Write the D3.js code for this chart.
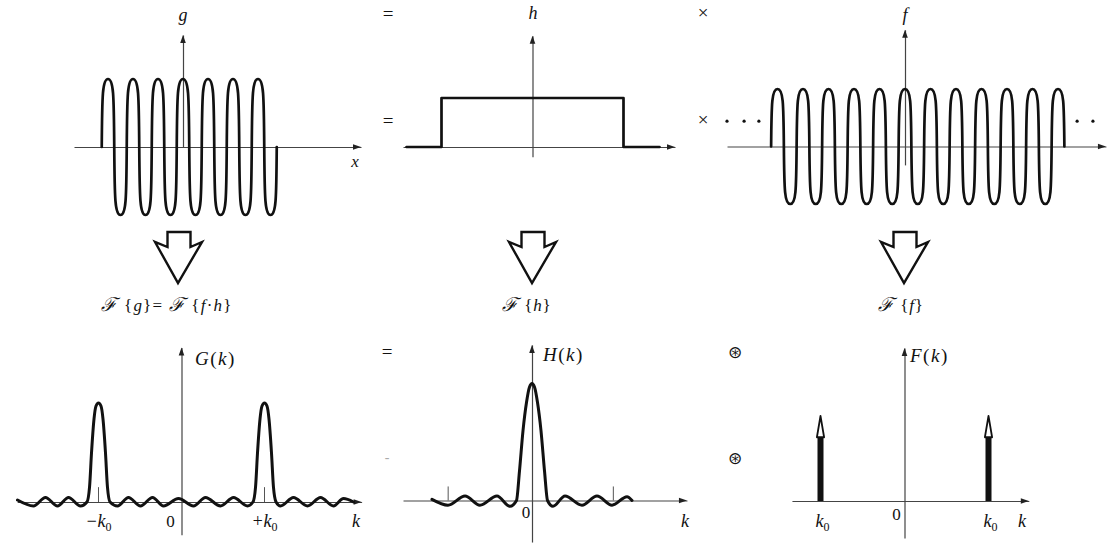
<!DOCTYPE html>
<html>
<head>
<meta charset="utf-8">
<script src="https://cdn.jsdelivr.net/npm/d3@7"></script>
<style>
body{margin:0;background:#fff}
svg text{font-family:"Liberation Serif","Times New Roman",serif;fill:#111}
.it{font-style:italic}
.scr{font-family:"DejaVu Serif",serif;font-style:italic}
.axis .domain{stroke:#444;stroke-width:1.2}
</style>
</head>
<body>
<svg id="fig" width="1107" height="549"></svg>
<script>
// ---- top row, x in carrier periods, value in amplitude units ----
// zero crossings and extrema of g = f*h  (7 periods)
const gX = [-3.25,-3,-2.75,-2.5,-2.25,-2,-1.75,-1.5,-1.25,-1,-0.75,-0.5,-0.25,0,0.25,0.5,0.75,1,1.25,1.5,1.75,2,2.25,2.5,2.75,3,3.25,3.5,3.75]
const gY = [0,1,0,-1,0,1,0,-1,0,1,0,-1,0,1,0,-1,0,1,0,-1,0,1,0,-1,0,1,0,-1,0]
// h = rectangular window
const hX = [-5.04,-3.64,-3.64,3.64,3.64,5.08]
const hY = [0,0,1,1,0,0]
// f = cosine carrier (continues both ways)
const fX = [-5.25,-5,-4.75,-4.5,-4.25,-4,-3.75,-3.5,-3.25,-3,-2.75,-2.5,-2.25,-2,-1.75,-1.5,-1.25,-1,-0.75,-0.5,-0.25,0,
            0.25,0.5,0.75,1,1.25,1.5,1.75,2,2.25,2.5,2.75,3,3.25,3.5,3.75,4,4.25,4.5,4.75,5,5.25,5.5,5.75,6,6.25]
const fY = [0,1,0,-1,0,1,0,-1,0,1,0,-1,0,1,0,-1,0,1,0,-1,0,1,
            0,-1,0,1,0,-1,0,1,0,-1,0,1,0,-1,0,1,0,-1,0,1,0,-1,0,1,0]
const fDotsX = [-6.98,-6.31,-5.73,6.75,7.37]
const fDotsY = [0.44,0.44,0.44,0.44,0.44]

// ---- bottom row, x in units of k0 ----
const Gk = [-1.976,-1.783,-1.639,-1.494,-1.361,-1.217,-1.139,-1.108,-1.084,-1.054,-1.030,-1,-0.970,-0.946,-0.916,-0.892,-0.861,
            -0.771,-0.639,-0.494,-0.349,-0.217,-0.036,0.145,0.289,0.470,0.627,0.795,
            0.861,0.892,0.916,0.946,0.970,1,1.030,1.054,1.084,1.108,1.139,1.193,1.349,1.518,1.675,1.831,1.952,2.072]
const Gv = [0.02,-0.04,0.045,-0.04,0.045,-0.04,0,0.15,0.5,0.84,0.97,1,0.97,0.84,0.5,0.15,0,
            -0.04,0.045,-0.04,0.045,-0.04,0.035,-0.04,0.045,-0.04,0.045,-0.04,
            0,0.15,0.5,0.84,0.97,1,0.97,0.84,0.5,0.15,0,-0.04,0.045,-0.04,0.045,-0.04,0.035,0]
const GtickK = [-1,1]
const GtickText = ["\u2212k","+k"]

const Hk = [-1.205,-1.012,-0.807,-0.627,-0.422,-0.265,-0.187,-0.151,-0.108,-0.066,-0.030,0,
            0.030,0.066,0.108,0.151,0.187,0.253,0.398,0.602,0.783,0.964,1.145,1.205]
const Hv = [0.01,-0.04,0.038,-0.04,0.038,-0.05,0,0.25,0.6,0.84,0.97,1,
            0.97,0.84,0.6,0.25,0,-0.05,0.038,-0.04,0.038,-0.04,0.032,0]
const HtickK = [-1.01,0.98]

const Fk = [-1,1]
const Fv = [1,1]
const FtickText = ["k","k"]

const svg = d3.select("#fig")

//curve for the carriers: points alternate zero crossing / extremum,
//steep flanks and round tops like the hand drawn loops
function hairpin(context) {
  let i, x0, y0
  return {
    areaStart: function(){}, areaEnd: function(){},
    lineStart: function(){ i = 0 },
    lineEnd: function(){},
    point: function(x, y) {
      const dx = x - x0, dy = y - y0
      if (i === 0) context.moveTo(x, y)
      else if (i % 2 === 1) context.bezierCurveTo(x0 + 0.06*dx, y0 + 0.78*dy, x0 + 0.12*dx, y, x, y)
      else context.bezierCurveTo(x - 0.12*dx, y0, x - 0.06*dx, y - 0.78*dy, x, y)
      x0 = x; y0 = y; i++
    }
  }
}

function makePanel(c) {
  c.x = d3.scaleLinear().domain([c.xLo,c.xHi]).range([c.ox+c.ux*c.xLo, c.ox+c.ux*c.xHi])
  c.y = d3.scaleLinear().domain([c.yLo,c.yHi]).range([c.oy-c.uy*c.yLo, c.oy-c.uy*c.yHi])
  //axes without ticks, arrow heads at the far ends
  svg.append("g").attr("class","axis").attr("transform","translate(0,"+c.y(0)+")")
     .call(d3.axisBottom(c.x).tickValues([]).tickSizeOuter(0))
  svg.append("g").attr("class","axis").attr("transform","translate("+c.x(0)+",0)")
     .call(d3.axisLeft(c.y).tickValues([]).tickSizeOuter(0))
  const xe = c.x(c.xHi), ye = c.y(0), xv = c.x(0), yt = c.y(c.yHi)
  svg.append("path").attr("d","M"+xe+","+ye+"L"+(xe-8)+","+(ye-2.8)+"L"+(xe-8)+","+(ye+2.8)+"Z").attr("fill","#222")
  svg.append("path").attr("d","M"+xv+","+yt+"L"+(xv-2.8)+","+(yt+8)+"L"+(xv+2.8)+","+(yt+8)+"Z").attr("fill","#222")
  return c
}

function curve(p, xs, ys, type, w) {
  const pts = xs.map(function(v,i){return [v, ys[i]]})
  svg.append("path").datum(pts)
     .attr("d", d3.line().x(function(d){return p.x(d[0])}).y(function(d){return p.y(d[1])}).curve(type))
     .attr("fill","none").attr("stroke","#111").attr("stroke-width",w || 2.6)
     .attr("stroke-linejoin","round").attr("stroke-linecap","round")
}

function label(x, y, parts, size, anchor) {
  const t = svg.append("text").attr("x",x).attr("y",y).attr("font-size",size)
               .attr("text-anchor",anchor || "start")
  parts.forEach(function(p){
    const s = t.append("tspan").text(p[0])
    if (p[1]) s.attr("class",p[1])
    if (p[2]) s.attr("font-size",p[2])
    if (p[3]) s.attr("dy",p[3])
  })
  return t
}

//TOP ROW
const pg = makePanel({ox:183, ux:25, oy:147, uy:68, xLo:-4.36, xHi:7.12, yLo:0, yHi:1.647})
curve(pg, gX, gY, hairpin, 2.7)
const ph = makePanel({ox:532.5, ux:25, oy:147, uy:49, xLo:-5.18, xHi:5.7, yLo:-0.2, yHi:2.27})
curve(ph, hX, hY, d3.curveLinear, 2.7)
const pf = makePanel({ox:905, ux:25.5, oy:146.5, uy:57.5, xLo:-6.98, xHi:7.88, yLo:-0.32, yHi:2.03})
curve(pf, fX, fY, hairpin, 2.7)
svg.selectAll(".dot").data(fDotsX).enter().append("circle")
   .attr("cx",function(d){return pf.x(d)}).attr("cy",function(d,i){return pf.y(fDotsY[i])})
   .attr("r",1.6).attr("fill","#111")

label(183, 21, [["g","it"]], 18, "middle")
label(533, 19, [["h","it"]], 18, "middle")
label(905, 21, [["f","it"]], 18, "middle")
label(355, 167, [["x","it"]], 17, "middle")

const ops = [["=",388,20],["=",388,127],["\u00d7",703,19],["\u00d7",703,126],["=",387,358]]
ops.forEach(function(o){ label(o[1], o[2], [[o[0]]], 19, "middle") })
label(387, 462, [["-"]], 14, "middle").style("fill","#aaa")
label(735, 358, [["\u229b"]], 17, "middle").style("font-family","DejaVu Sans")
label(735, 464, [["\u229b"]], 17, "middle").style("font-family","DejaVu Sans")

//hollow block arrows
const arrowX = [179, 533, 905]
arrowX.forEach(function(cx){
  const d = "M"+(cx-11.5)+",232 L"+(cx+11.5)+",232 L"+(cx+11.5)+",247 L"+(cx+23)+",242 L"+(cx-1)+",283 L"+(cx-24)+",242 L"+(cx-11.5)+",247 Z"
  svg.append("path").attr("d",d).attr("fill","#fff").attr("stroke","#111").attr("stroke-width",2.4).attr("stroke-linejoin","miter")
})
label(167, 311, [["\u2131","scr",19],[" {"],["g","it"],["}= "],["\u2131","scr",19],[" {"],["f","it"],["\u00b7"],["h","it"],["}"]], 17, "middle")
  .attr("letter-spacing",1.2)
label(527, 311, [["\u2131","scr",19],[" {"],["h","it"],["}"]], 17, "middle").attr("letter-spacing",0.8)
label(901, 311, [["\u2131","scr",19],[" {"],["f","it"],["}"]], 17, "middle").attr("letter-spacing",0.8)

//BOTTOM ROW
const pG = makePanel({ox:181.5, ux:83, oy:502, uy:99, xLo:-1.98, xHi:2.17, yLo:-0.33, yHi:1.56})
svg.selectAll(".gtick").data(GtickK).enter().append("line")
   .attr("x1",function(d){return pG.x(d)}).attr("x2",function(d){return pG.x(d)})
   .attr("y1",pG.y(0)).attr("y2",pG.y(0.15)).attr("stroke","#555").attr("stroke-width",1)
curve(pG, Gk, Gv, d3.curveMonotoneX, 3)
label(195, 365, [["G","it"],["("],["k","it"],[")"]], 19).attr("letter-spacing",1.5)
GtickK.forEach(function(k,i){
  label(pG.x(k), 527, [[GtickText[i],"it"],["0",null,12,4]], 18, "middle")
})
label(pG.x(0)-11, 527, [["0"]], 17, "middle")
label(356, 527, [["k","it"]], 18, "middle")

const pH = makePanel({ox:532, ux:83, oy:500.5, uy:117, xLo:-1.554, xHi:1.867, yLo:-0.355, yHi:1.33})
svg.selectAll(".htick").data(HtickK).enter().append("line")
   .attr("x1",function(d){return pH.x(d)}).attr("x2",function(d){return pH.x(d)})
   .attr("y1",pH.y(0)).attr("y2",pH.y(0.12)).attr("stroke","#555").attr("stroke-width",1)
curve(pH, Hk, Hv, d3.curveMonotoneX, 3)
label(543, 361, [["H","it"],["("],["k","it"],[")"]], 19).attr("letter-spacing",1.5)
label(pH.x(0)-6, 518, [["0"]], 17, "middle")
label(685, 527, [["k","it"]], 18, "middle")

const pF = makePanel({ox:904.5, ux:84, oy:501, uy:85, xLo:-1.34, xHi:1.48, yLo:-0.435, yHi:1.8})
//impulses: solid stem then hollow head
Fk.forEach(function(k,i){
  const x = pF.x(k), y0 = pF.y(0), ym = pF.y(0.75*Fv[i]), yt = pF.y(Fv[i])
  svg.append("rect").attr("x",x-3).attr("y",ym).attr("width",6).attr("height",y0-ym).attr("fill","#111")
  svg.append("path").attr("d","M"+x+","+yt+"L"+(x-3.6)+","+ym+"L"+(x+3.6)+","+ym+"Z")
     .attr("fill","#fff").attr("stroke","#111").attr("stroke-width",1.8).attr("stroke-linejoin","round")
  label(x+2, 527, [[FtickText[i],"it"],["0",null,12,4]], 18, "middle")
})
label(910, 362, [["F","it"],["("],["k","it"],[")"]], 19).attr("letter-spacing",1.5)
label(pF.x(0)-8, 520, [["0"]], 17, "middle")
label(1022, 527, [["k","it"]], 18, "middle")
</script>
</body>
</html>
